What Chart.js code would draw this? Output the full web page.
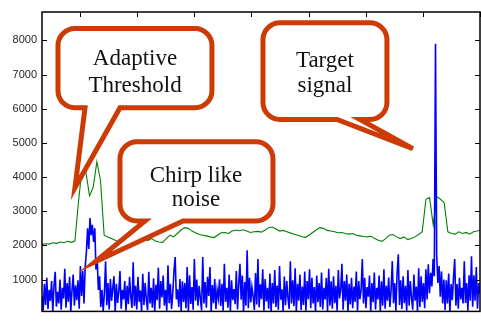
<!DOCTYPE html>
<html>
<head>
<meta charset="utf-8">
<script src="https://cdn.jsdelivr.net/npm/chart.js@4.4.0/dist/chart.umd.min.js"></script>
<style>
  html, body { margin: 0; padding: 0; background: #fff; }
  canvas { display: block; }
</style>
</head>
<body>
<canvas id="chart" width="481" height="323"></canvas>
<script>
// sample axis: first sample index and spacing between samples
const sampleStart = 333;
const blueStep = 21;
const greenStep = 64;

// received signal (blue)
const signal = [
  520, 90, 880, 260, 1050, 140, 700, 380, 960, 60, 820, 1230, 210, 640, 300, 1000, 120, 760, 450, 1320,
  180, 900, 350, 1080, 70, 690, 1150, 240, 830, 400, 980, 150, 1400, 520, 1250, 300, 1380, 1800, 2500, 1900,
  2800, 2300, 2600, 2100, 2500, 1300, 1600, 700, 1100, 200, 700, 80, 600, 1540, 250, 900, 130, 1020, 380, 760,
  1100, 60, 880, 320, 650, 1250, 150, 700, 420, 960, 90, 820, 280, 1080, 500, 170, 1510, 230, 820, 130,
  1080, 350, 690, 70, 1170, 260, 900, 410, 110, 1230, 300, 760, 180, 1040, 60, 850, 400, 1350, 150, 960,
  480, 1120, 240, 700, 90, 1420, 310, 880, 140, 600, 1250, 1660, 420, 720, 200, 1020, 80, 950, 350, 900,
  160, 1370, 60, 1130, 290, 780, 120, 1600, 380, 1000, 240, 820, 450, 100, 1660, 300, 930, 180, 1080, 520,
  1370, 70, 840, 310, 1020, 140, 700, 450, 1010, 230, 880, 90, 1460, 350, 760, 180, 1150, 60, 980, 400,
  720, 280, 1250, 130, 870, 1460, 410, 1120, 50, 930, 240, 1860, 160, 1050, 330, 780, 520, 110, 1190, 270,
  1600, 190, 860, 430, 1300, 90, 1020, 360, 760, 150, 1180, 60, 900, 300, 1280, 200, 830, 120, 1400, 410,
  720, 80, 1090, 250, 960, 470, 140, 1540, 300, 980, 220, 1330, 70, 880, 380, 1150, 110, 800, 260, 1240,
  90, 960, 430, 1300, 160, 1050, 300, 780, 60, 1120, 340, 900, 200, 1210, 130, 760, 420, 1050, 80, 1320,
  240, 950, 150, 1100, 310, 820, 90, 1280, 450, 700, 1460, 120, 960, 380, 1150, 60, 880, 270, 1050, 160,
  800, 350, 1240, 90, 960, 430, 700, 1600, 300, 1050, 160, 780, 500, 1120, 60, 900, 340, 1210, 130, 760,
  420, 1120, 80, 950, 240, 1300, 150, 820, 380, 1060, 200, 700, 1540, 310, 900, 90, 1200, 1740, 260, 980,
  140, 1100, 310, 820, 90, 1280, 240, 960, 470, 120, 1150, 380, 800, 70, 1330, 200, 1100, 350, 900, 160,
  1300, 420, 1450, 600, 1200, 800, 1600, 1100, 7900, 1700, 900, 1400, 500, 1240, 300, 1000, 110, 980, 300, 1180,
  60, 870, 400, 1050, 1600, 240, 870, 150, 1050, 420, 760, 300, 1540, 320, 900, 90, 1130, 380, 1680, 210,
  1130, 380, 1370, 150, 900, 600
];

// adaptive threshold (green)
const threshold = [
  2030, 2050, 2040, 2080, 2060, 2100, 2080, 2120, 2090, 2130,
  3300, 4300, 4150, 3450, 3700, 4450, 3900, 2300, 2250, 2200,
  2150, 2100, 2050, 2090, 2000, 2100, 2150, 2200, 2170, 2150,
  2200, 2130, 2100, 2090, 2200, 2300, 2250, 2350, 2450, 2520,
  2500, 2420, 2370, 2320, 2300, 2280, 2250, 2230, 2300, 2370,
  2380, 2350, 2420, 2450, 2430, 2460, 2420, 2380, 2400, 2410,
  2390, 2450, 2520, 2540, 2480, 2420, 2440, 2400, 2360, 2330,
  2300, 2260, 2230, 2300, 2380, 2450, 2520, 2500, 2440, 2420,
  2400, 2370, 2380, 2350, 2330, 2350, 2300, 2280, 2260, 2250,
  2270, 2200, 2150, 2120, 2200, 2300, 2320, 2250, 2200, 2250,
  2170, 2200, 2250, 2320, 2400, 3350, 3400, 2600, 3420, 3350,
  3250, 2400, 2350, 2330, 2400, 2350, 2380, 2330, 2400, 2420, 2450
];

const yTicks = [1000, 2000, 3000, 4000, 5000, 6000, 7000, 8000];
const xTicks = [1000, 2000, 3000, 4000, 5000, 6000, 7000, 8000];

// callouts, placed in data units
const callouts = [
  { lines: ['Adaptive', 'Threshold'], box: [613, 3308, 8344, 6030], base: [1086, 1698], tip: [910, 3689], text: [1961, 7459, 6660] },
  { lines: ['Chirp like', 'noise'], box: [1698, 4376, 5031, 2717], base: [2136, 2801], tip: [1261, 1518], text: [3028, 4032, 3318] },
  { lines: ['Target', 'signal'], box: [4201, 6371, 8515, 5688], base: [5496, 5898], tip: [6825, 4831], text: [5286, 7401, 6658] }
];

function drawCallout(ctx, xs, ys, c) {
  const l = xs.getPixelForValue(c.box[0]), r = xs.getPixelForValue(c.box[1]);
  const t = ys.getPixelForValue(c.box[2]), b = ys.getPixelForValue(c.box[3]);
  const ba = xs.getPixelForValue(c.base[0]), bb = xs.getPixelForValue(c.base[1]);
  const tx = xs.getPixelForValue(c.tip[0]), ty = ys.getPixelForValue(c.tip[1]);
  const rad = 17;

  ctx.beginPath();
  ctx.moveTo(l + rad, t);
  ctx.lineTo(r - rad, t);
  ctx.arcTo(r, t, r, t + rad, rad);
  ctx.lineTo(r, b - rad);
  ctx.arcTo(r, b, r - rad, b, rad);
  ctx.lineTo(bb, b);
  ctx.lineTo(tx, ty);
  ctx.lineTo(ba, b);
  ctx.lineTo(l + rad, b);
  ctx.arcTo(l, b, l, b - rad, rad);
  ctx.lineTo(l, t + rad);
  ctx.arcTo(l, t, l + rad, t, rad);
  ctx.closePath();
  ctx.fillStyle = '#fff';
  ctx.fill();
  ctx.lineWidth = 5;
  ctx.lineJoin = 'miter';
  ctx.strokeStyle = '#cc3a06';
  ctx.stroke();

  ctx.fillStyle = '#111';
  ctx.font = '23px "Liberation Serif", "Times New Roman", serif';
  ctx.textAlign = 'center';
  ctx.textBaseline = 'middle';
  const cx = xs.getPixelForValue(c.text[0]);
  ctx.fillText(c.lines[0], cx, ys.getPixelForValue(c.text[1]));
  ctx.fillText(c.lines[1], cx, ys.getPixelForValue(c.text[2]));
}

const frame = {
  id: 'frame',
  afterDatasetsDraw(chart) {
    const { ctx, scales: { x, y } } = chart;
    ctx.save();
    callouts.forEach(c => drawCallout(ctx, x, y, c));
    ctx.restore();
  },
  afterDraw(chart) {
    const { ctx, chartArea: { left, right, top, bottom }, scales: { x, y } } = chart;
    ctx.save();
    ctx.strokeStyle = '#000';
    ctx.lineWidth = 1;
    ctx.beginPath();
    yTicks.forEach(v => {
      const py = Math.round(y.getPixelForValue(v)) + 0.5;
      ctx.moveTo(left, py); ctx.lineTo(left + 5, py);
      ctx.moveTo(right, py); ctx.lineTo(right - 5, py);
    });
    xTicks.forEach(v => {
      const px = Math.round(x.getPixelForValue(v)) + 0.5;
      ctx.moveTo(px, top); ctx.lineTo(px, top + 5);
    });
    ctx.stroke();
    ctx.lineWidth = 1.5;
    ctx.strokeRect(left, top, right - left, bottom - top);
    ctx.restore();
  }
};

new Chart(document.getElementById('chart'), {
  type: 'line',
  data: {
    datasets: [
      {
        label: 'Signal',
        data: signal.map((v, i) => ({ x: sampleStart + i * blueStep, y: v })),
        borderColor: '#0000ff',
        borderWidth: 1.6
      },
      {
        label: 'Adaptive threshold',
        data: threshold.map((v, i) => ({ x: sampleStart + i * greenStep, y: v })),
        borderColor: '#008000',
        borderWidth: 1.1
      }
    ]
  },
  options: {
    responsive: false,
    animation: false,
    devicePixelRatio: 1,
    layout: { padding: { top: 12, right: 1, bottom: 4, left: 0 } },
    elements: { point: { radius: 0 }, line: { tension: 0 } },
    plugins: { legend: { display: false }, tooltip: { enabled: false } },
    scales: {
      x: { type: 'linear', min: 333, max: 8000, display: false },
      y: {
        min: 70,
        max: 8830,
        afterFit(s) { s.width = 42; },
        afterBuildTicks(s) { s.ticks = yTicks.map(v => ({ value: v })); },
        grid: { display: false, drawTicks: false },
        border: { display: false },
        ticks: {
          padding: 5,
          color: '#262626',
          callback: v => String(v),
          font: { family: '"Liberation Sans", Arial, sans-serif', size: 11 }
        }
      }
    }
  },
  plugins: [frame]
});
</script>
</body>
</html>
